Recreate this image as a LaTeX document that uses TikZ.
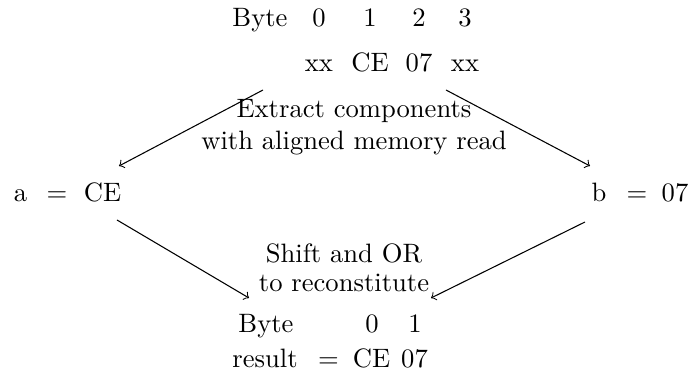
\documentclass[tikz,border=0pt]{standalone}
\begin{document}
\begin{tikzpicture}[x=0.3759pt,y=-0.3759pt,
  txt/.style={anchor=base,inner sep=0pt,outer sep=0pt},
  arr/.style={->}]
\useasboundingbox (0,0) rectangle (689,381);
% top rows
\node[txt] (byteA) at (260,27) {Byte};
\node[txt] (b0) at (319,27) {0};
\node[txt] (b1) at (370,27) {1};
\node[txt] (b2) at (419,27) {2};
\node[txt] (b3) at (465,27) {3};
\node[txt] (v0) at (319,72) {xx};
\node[txt] (v1) at (370,72) {CE};
\node[txt] (v2) at (419,72) {07};
\node[txt] (v3) at (465,72) {xx};
% a and b
\node[txt] (a) at (20.5,202) {a};
\node[txt] (aeq) at (57,202) {$=$};
\node[txt] (aval) at (102.5,202) {CE};
\node[txt] (b) at (599,202) {b};
\node[txt] (beq) at (637,202) {$=$};
\node[txt] (bval) at (675,202) {07};
% bottom
\node[txt] (byteB) at (266,333) {Byte};
\node[txt] (r0) at (372,333) {0};
\node[txt] (r1) at (415,333) {1};
\node[txt] (res) at (265,368) {result};
\node[txt] (req) at (328.5,368) {$=$};
\node[txt] (rv0) at (371.5,368) {CE};
\node[txt] (rv1) at (414.5,368) {07};
% labels
\node[txt] (l1a) at (354,118) {Extract components};
\node[txt] (l1b) at (354,150) {with aligned memory read};
\node[txt] (l2a) at (344,263) {Shift and OR};
\node[txt] (l2b) at (344,292) {to reconstitute};
% arrow ends
\coordinate (s1) at (263,90);
\coordinate (e1) at (119,166);
\coordinate (s2) at (446,90);
\coordinate (e2) at (590,166);
\coordinate (s3) at (117,220);
\coordinate (e3) at (249,298);
\coordinate (s4) at (585,222);
\coordinate (e4) at (431,298);
\draw[arr] (s1) -- (e1);
\draw[arr] (s2) -- (e2);
\draw[arr] (s3) -- (e3);
\draw[arr] (s4) -- (e4);
\end{tikzpicture}
\end{document}
